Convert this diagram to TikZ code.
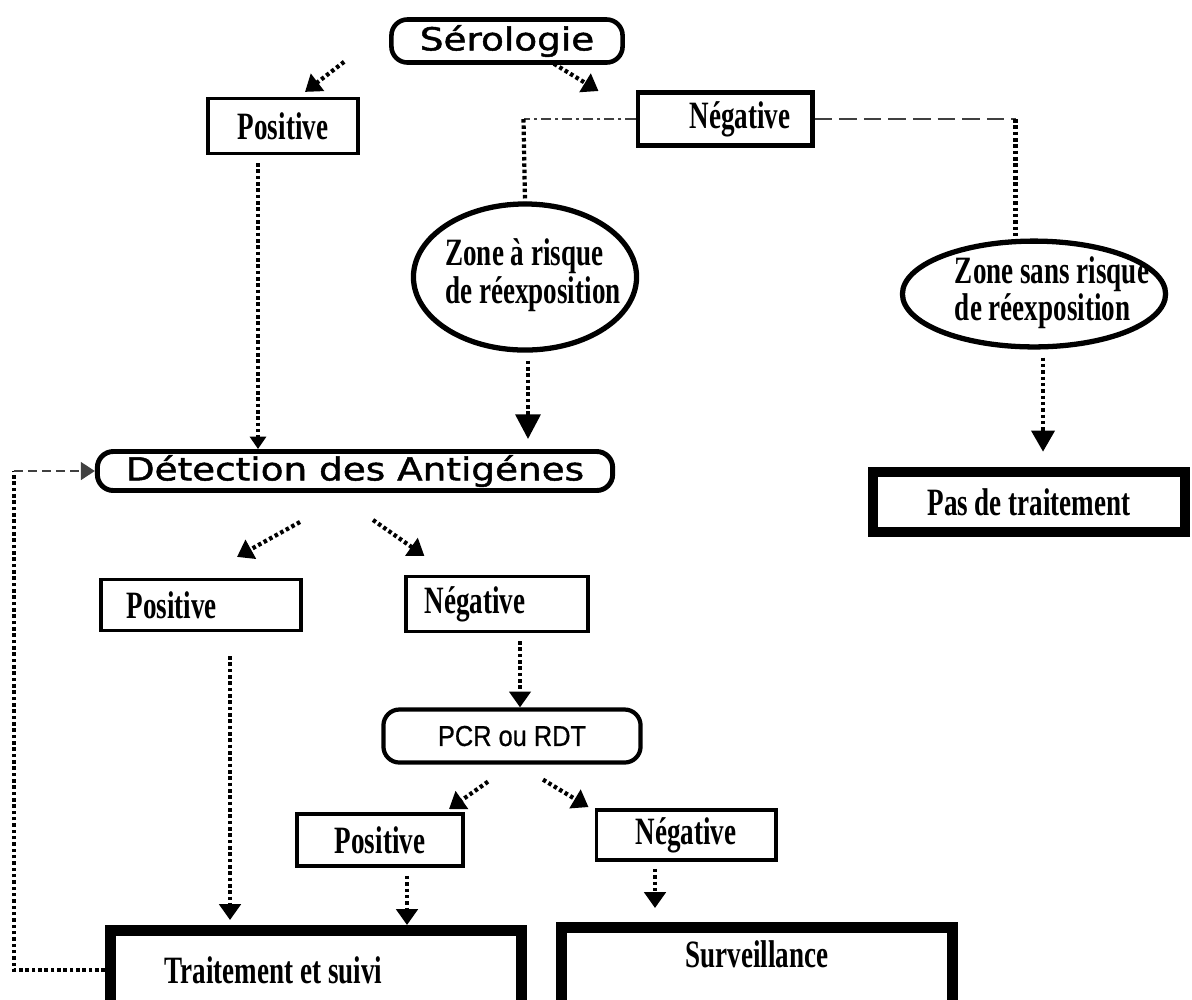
\documentclass[tikz,border=0pt]{standalone}
\usepackage{fontspec}
\setmainfont{Liberation Serif}[FakeStretch=0.7]
\newfontfamily\gothique{DejaVu Sans}[FakeStretch=1.18, FakeBold=1.5]
\newfontfamily\etroite{Liberation Sans}[FakeStretch=0.88, FakeBold=0.6]
\usetikzlibrary{arrows.meta,shapes.geometric}
\tikzstyle{boite} = [draw, rectangle, line width=0.9pt, inner sep=0pt, font=\fontsize{11pt}{12pt}\selectfont\bfseries]
\tikzstyle{boiteepaisse} = [boite, line width=3pt]
\tikzstyle{arrondie} = [draw, rectangle, rounded corners=0.16cm, line width=1.3pt, inner sep=0pt]
\tikzstyle{zone} = [draw, ellipse, line width=1.5pt, inner sep=0pt, font=\fontsize{11pt}{10.5pt}\selectfont\bfseries]
\tikzstyle{pointille} = [line width=1.2pt, dash pattern=on 1pt off 0.8pt]
\tikzstyle{fleche} = [pointille, -{Triangle[length=4.5pt,width=6pt]}]
\tikzstyle{gris} = [black!75, line width=0.8pt]

\begin{document}
\begin{tikzpicture}[x=0.01cm, y=-0.01cm]
	\path[use as bounding box, fill=white] (0,0) rectangle (1192,999);
	% les noeuds
	\node[arrondie, minimum width=2.31cm, minimum height=0.43cm, font=\gothique\fontsize{9pt}{10pt}\selectfont] (sero) at (507,41) {Sérologie};
	\node[boite, minimum width=1.50cm, minimum height=0.55cm] (pos1) at (283,126) {Positive};
	\node[boite, line width=1.4pt, minimum width=1.74cm, minimum height=0.53cm] (neg1) at (725,119) {\hspace*{0.3cm}Négative};
	\node[zone, minimum width=2.23cm, minimum height=1.46cm] (zar) at (525,277) {\makebox[0pt]{\hspace{0.16cm}\begin{tabular}{@{}l@{}}Zone à risque\\de réexposition\end{tabular}}};
	\node[zone, minimum width=2.63cm, minimum height=1.03cm, font=\fontsize{11pt}{10pt}\selectfont\bfseries] (zsr) at (1034,294) {\makebox[0pt]{\hspace{0.36cm}\begin{tabular}{@{}l@{}}Zone sans risque\\de réexposition\end{tabular}}};
	\node[arrondie, line width=1.4pt, minimum width=5.15cm, minimum height=0.39cm, font=\gothique\fontsize{9pt}{10pt}\selectfont] (det) at (355,471) {Détection des Antigénes};
	\node[boiteepaisse, minimum width=3.12cm, minimum height=0.60cm] (pas) at (1029,502) {Pas de traitement};
	\node[boite, minimum width=2.00cm, minimum height=0.51cm, text width=1.49cm, align=left] (pos2) at (201,605) {Positive};
	\node[boite, minimum width=1.82cm, minimum height=0.55cm, text width=1.45cm, align=left] (neg2) at (497,604) {Négative};
	\node[arrondie, line width=1.2pt, minimum width=2.57cm, minimum height=0.53cm, font=\etroite\fontsize{8.2pt}{9pt}\selectfont] (pcr) at (512,736) {PCR ou RDT};
	\node[boite, line width=1.1pt, minimum width=1.66cm, minimum height=0.52cm] (pos3) at (380,840) {Positive};
	\node[boite, line width=1.1pt, minimum width=1.79cm, minimum height=0.50cm] (neg3) at (686,835) {Négative};
	\node[boiteepaisse, line width=3.1pt, minimum width=4.11cm, minimum height=0.79cm] (trait) at (316,970) {Traitement et suivi\hspace*{0.85cm}};
	\node[boiteepaisse, line width=3.1pt, minimum width=3.90cm, minimum height=0.85cm, text depth=0.31cm] (surv) at (757,970) {Surveillance};
	% les fleches
	\draw[fleche] ([shift={(-45,-3)}]sero.south west) -- ([shift={(22,-5)}]pos1.north);
	\draw[fleche] ([shift={(47,-1)}]sero.south) -- ([shift={(-37,1)}]neg1.north west);
	\draw[fleche, -{Triangle[length=3.5pt,width=4.5pt]}] ([shift={(-25,8)}]pos1.south) coordinate (p1) -- (p1 |- det.north);
	\draw[gris, dash pattern=on 3pt off 1pt on 1pt off 1pt] (neg1.west) -- ++(-112,0) coordinate (nl);
	\draw[pointille] (nl) -- (zar.north);
	\draw[gris, dash pattern=on 5pt off 2pt] (neg1.east) -- ++(201,0) coordinate (nr);
	\draw[pointille] (nr) -- (nr |- zsr.north);
	\draw[fleche, -{Triangle[length=7pt,width=7pt]}, shorten <=0.08cm, shorten >=0.1cm] ([xshift=0.03cm]zar.south) coordinate (z1) -- (z1 |- det.north);
	\draw[fleche, -{Triangle[length=6pt,width=6.5pt]}, shorten <=0.08cm, shorten >=0.15cm] ([xshift=0.09cm]zsr.south) coordinate (z2) -- (z2 |- pas.north);
	\draw[fleche] ([shift={(-55,29)}]det.south) -- ([shift={(36,-21)}]pos2.north);
	\draw[fleche] ([shift={(18,27)}]det.south) -- ([shift={(20,-19)}]neg2.north west);
	\draw[fleche, shorten >=0.05cm] ([shift={(29,24)}]pos2.south) coordinate (p2) -- (p2 |- trait.north);
	\draw[fleche] ([shift={(23,8)}]neg2.south) coordinate (n2) -- (n2 |- pcr.north);
	\draw[fleche] ([shift={(-24,17)}]pcr.south) -- ([shift={(-16,-3)}]pos3.north east);
	\draw[fleche] ([shift={(31,15)}]pcr.south) -- ([shift={(-6,-1)}]neg3.north west);
	\draw[fleche] ([shift={(27,8)}]pos3.south) coordinate (p3) -- (p3 |- trait.north);
	\draw[fleche, shorten >=0.14cm] ([shift={(-31,7)}]neg3.south) coordinate (n3) -- (n3 |- surv.north);
	% retour vers la detection
	\draw[pointille] (trait.west) -- ++(-91,0) coordinate (bb) -- (bb |- det.west) coordinate (bh);
	\draw[gris, dash pattern=on 2.5pt off 1.5pt, -{Triangle[length=4pt,width=5pt]}] (bh) -- (det.west);
\end{tikzpicture}
\end{document}
